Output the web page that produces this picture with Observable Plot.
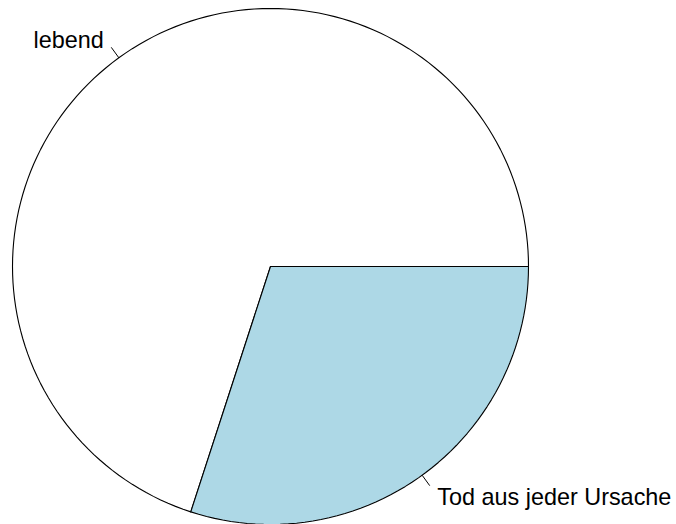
<!DOCTYPE html>
<html>
<head>
<meta charset="utf-8">
<script src="https://cdn.jsdelivr.net/npm/d3@7"></script>
<script src="https://cdn.jsdelivr.net/npm/@observablehq/plot@0.6"></script>
<style>
  html, body { margin: 0; padding: 0; background: white; }
</style>
</head>
<body>
<div id="chart"></div>
<script>
const labels = ["lebend", "Tod aus jeder Ursache"];
const values = [70, 30];
const colors = ["white", "lightblue"];

const total = d3.sum(values);
const slices = [];
let acc = 0;
values.forEach((v, i) => {
  const a0 = acc / total * 2 * Math.PI;
  acc += v;
  const a1 = acc / total * 2 * Math.PI;
  slices.push({label: labels[i], color: colors[i], a0, a1, mid: (a0 + a1) / 2});
});

function slicePath(s) {
  const n = Math.max(2, Math.floor(200 * (s.a1 - s.a0) / (2 * Math.PI)));
  const pts = [{x: 0, y: 0}];
  for (let k = 0; k <= n; k++) {
    const t = s.a0 + (s.a1 - s.a0) * k / n;
    pts.push({x: Math.cos(t), y: Math.sin(t)});
  }
  pts.push({x: 0, y: 0});
  return pts;
}

const ticks = slices.map(s => ({
  x1: Math.cos(s.mid), y1: Math.sin(s.mid),
  x2: 1.05 * Math.cos(s.mid), y2: 1.05 * Math.sin(s.mid)
}));
const texts = slices.map(s => ({
  x: 1.1 * Math.cos(s.mid), y: 1.1 * Math.sin(s.mid),
  label: s.label, anchor: Math.cos(s.mid) < 0 ? "end" : "start"
}));

const R = 258, cx = 270, cy = 266, W = 676, H = 524;

const chart = Plot.plot({
  width: W,
  height: H,
  margin: 0,
  x: {domain: [-cx / R, (W - cx) / R], axis: null},
  y: {domain: [(cy - H) / R, cy / R], axis: null},
  style: {fontFamily: "'Liberation Sans', Arial, sans-serif", background: "white"},
  marks: [
    ...slices.map(s => Plot.line(slicePath(s), {
      x: "x", y: "y", fill: s.color, stroke: "black", strokeWidth: 1.1, curve: "linear"
    })),
    Plot.link(ticks, {x1: "x1", y1: "y1", x2: "x2", y2: "y2", stroke: "black", strokeWidth: 1}),
    Plot.text(texts.filter(d => d.anchor === "end"), {
      x: "x", y: "y", text: "label", textAnchor: "end", lineAnchor: "middle",
      fontSize: 23.4, fill: "black", dy: 3.5
    }),
    Plot.text(texts.filter(d => d.anchor === "start"), {
      x: "x", y: "y", text: "label", textAnchor: "start", lineAnchor: "middle",
      fontSize: 23.4, fill: "black", dy: 1
    })
  ]
});
document.getElementById("chart").appendChild(chart);
</script>
</body>
</html>
